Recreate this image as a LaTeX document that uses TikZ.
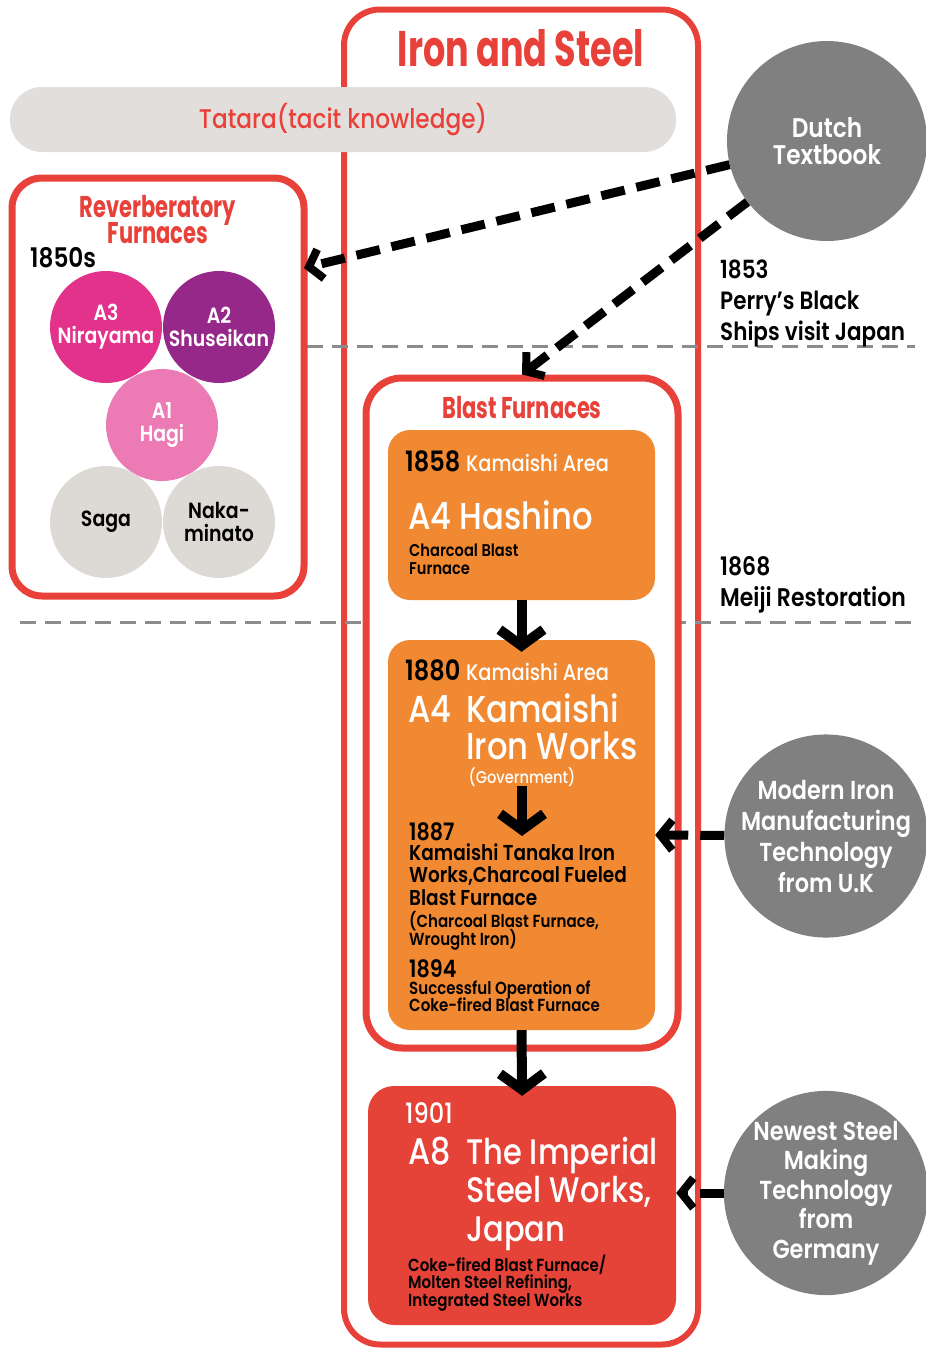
\documentclass[tikz,border=0pt]{standalone}
\usepackage{fontspec}
\setmainfont{Poppins}[FakeStretch=0.86, UprightFont=* Medium, BoldFont=* SemiBold]
\newfontfamily\condfont{Poppins}[FakeStretch=0.7, UprightFont=* Bold]
\usetikzlibrary{arrows.meta}

\definecolor{ironred}{RGB}{232,65,58}
\definecolor{imperialred}{RGB}{229,66,56}
\definecolor{furnace}{RGB}{240,137,50}
\definecolor{sourcegray}{RGB}{128,128,128}
\definecolor{tatarabar}{RGB}{226,222,219}
\definecolor{stonegray}{RGB}{221,217,213}
\definecolor{nirayama}{RGB}{226,50,140}
\definecolor{shuseikan}{RGB}{150,40,138}
\definecolor{hagi}{RGB}{236,122,180}
\definecolor{dashgray}{RGB}{140,140,140}

% size and fixed leading, even when lines touch
\newcommand{\fsz}[2]{\fontsize{#1}{#2}\selectfont\lineskiplimit=-100pt\lineskip=0pt}

\tikzset{
  frame/.style={draw=ironred, line width=7pt, fill=white},
  orangebox/.style={fill=furnace, rounded corners=22pt},
  site/.style={circle, minimum size=112pt, inner sep=0pt, align=center, text=white, font=\bfseries\fsz{22}{23}},
  source/.style={circle, fill=sourcegray, minimum size=200pt, inner sep=0pt, align=center, text=white},
  era/.style={draw=dashgray, line width=3pt, dash pattern=on 16pt off 9pt},
  influence/.style={line width=9pt, dash pattern=on 24pt off 12pt, -{Straight Barb[length=12pt,width=30pt,line width=8pt]}},
  flow/.style={line width=10pt, -{Straight Barb[length=16pt,width=44pt,line width=10pt]}},
  txt/.style={inner sep=0pt, anchor=base west, align=left},
}

\begin{document}
\begin{tikzpicture}[x=1pt, y=-1pt]
\useasboundingbox (0,0) rectangle (926,1349);

% big frame and the tatara bar over it
\node[frame, fill=none, line width=6pt, rounded corners=36pt, minimum width=354pt, minimum height=1335pt] (ironsteel) at (521,677) {};
\node[text=ironred, font=\condfont\fsz{50}{50}] (ironsteeltitle) at (521,48) {Iron and Steel};
\node[fill=tatarabar, rounded corners=32pt, minimum width=666pt, minimum height=65pt, text=ironred, font=\fsz{27}{27}] (tatara) at (343,119.5) {Tatara(tacit knowledge)};

% year lines
\draw[era] (307,346) -- (915,346);
\draw[era] (20,622) -- (915,622);

% reverberatory furnaces
\node[frame, rounded corners=30pt, minimum width=292pt, minimum height=418pt] (reverb) at (158,387) {};
\node[text=ironred, font=\condfont\fsz{30}{26}, align=center, inner sep=0pt, anchor=base] (reverbtitle) at (158,243) {Reverberatory\\Furnaces};
\node[txt, font=\bfseries\fsz{27}{27}] (fifties) at (30,267) {1850s};
\node[site, fill=nirayama] (a3) at (106,327) {A3\\Nirayama};
\node[site, fill=shuseikan] (a2) at (219,327) {A2\\Shuseikan};
\node[site, fill=hagi] (a1) at (162,425) {A1\\Hagi};
\node[site, fill=stonegray, text=black] (saga) at (106,522) {Saga};
\node[site, fill=stonegray, text=black] (nakaminato) at (219,522) {Naka-\\minato};

% blast furnaces
\node[frame, rounded corners=36pt, minimum width=312pt, minimum height=670pt] (blast) at (522,713) {};
\node[text=ironred, font=\condfont\fsz{30}{30}, anchor=base, inner sep=0pt] (blasttitle) at (522,418) {Blast Furnaces};
\node[orangebox, minimum width=267pt, minimum height=170pt] (hashino) at (521.5,515) {};
\node[orangebox, minimum width=267pt, minimum height=390pt] (kamaishi) at (521.5,835) {};

\node[txt, font=\bfseries\fsz{28}{28}] (y1858) at (405,471) {1858};
\node[txt, text=white, font=\fsz{22.5}{22}] (area1858) at (466,471) {Kamaishi Area};
\node[txt, text=white, font=\fsz{37.5}{37.5}] (hashinoname) at (408,529) {A4 Hashino};
\node[txt, font=\bfseries\fsz{17}{18}] (hashinotype) at (409,574) {Charcoal Blast\\Furnace};

\node[txt, font=\bfseries\fsz{28}{28}] (y1880) at (405,680) {1880};
\node[txt, text=white, font=\fsz{22.5}{22}] (area1880) at (466,680) {Kamaishi Area};
\node[txt, text=white, font=\fsz{37.5}{37.5}] (a4) at (408,722) {A4};
\node[txt, text=white, font=\fsz{37.5}{37}] (ironworks) at (466,759) {Kamaishi\\Iron Works};
\node[text=white, font=\fsz{17}{17}, inner sep=0pt, anchor=base] (govt) at (522,783) {(Government)};
\coordinate (tanakatop) at (522,836);
\node[txt, font=\bfseries\fsz{24}{24}] (y1887) at (409,840) {1887};
\node[txt, font=\bfseries\fsz{21.5}{22.5}] (tanaka) at (409,905) {Kamaishi Tanaka Iron\\Works,Charcoal Fueled\\Blast Furnace};
\node[txt, font=\bfseries\fsz{17.5}{18}] (tanakanote) at (409,945) {(Charcoal Blast Furnace,\\Wrought Iron)};
\node[txt, font=\bfseries\fsz{24}{24}] (y1894) at (409,977) {1894};
\node[txt, font=\bfseries\fsz{17.5}{17}] (coke) at (409,1011) {Successful Operation of\\Coke-fired Blast Furnace};

% imperial steel works
\node[fill=imperialred, rounded corners=26pt, minimum width=308pt, minimum height=239pt] (imperial) at (522,1205.5) {};
\node[txt, text=white, font=\fsz{28}{28}] (y1901) at (405,1123) {1901};
\node[txt, text=white, font=\fsz{37}{37}] (a8) at (408,1164) {A8};
\node[txt, text=white, font=\fsz{35.5}{38.5}] (imperialname) at (466,1241) {The Imperial\\Steel Works,\\Japan};
\node[txt, font=\bfseries\fsz{17.5}{17.5}] (imperialtype) at (408,1306) {Coke-fired Blast Furnace/\\Molten Steel Refining,\\Integrated Steel Works};

% events on the right
\node[txt, font=\bfseries\fsz{25}{31}] (perry) at (720,340) {1853\\Perry’s Black\\Ships visit Japan};
\node[txt, font=\bfseries\fsz{25.5}{31}] (meiji) at (720,606) {1868\\Meiji Restoration};

% outside sources
\node[source, font=\bfseries\fsz{27}{27}] (dutch) at (827,141) {Dutch\\Textbook};
\node[source, font=\bfseries\fsz{26}{31}] (modern) at (826,836) {Modern Iron\\Manufacturing\\Technology\\from U.K};
\node[source, font=\bfseries\fsz{26}{29.5}] (newest) at (826,1193) {Newest Steel\\Making\\Technology\\from\\Germany};

\coordinate (reverbin) at (304,268);
\draw[influence] (dutch) -- (reverbin);
\draw[influence] (dutch) -- (blast.north);
\draw[influence] (modern) -- (kamaishi.east);
\draw[influence] (newest) -- (newest -| imperial.east);

\draw[flow, shorten >=-12pt] (hashino.south) -- (kamaishi.north);
\draw[flow] (govt.south) -- (tanakatop);
\draw[flow, shorten >=-10pt] (kamaishi.south) -- (imperial.north);

\end{tikzpicture}
\end{document}
